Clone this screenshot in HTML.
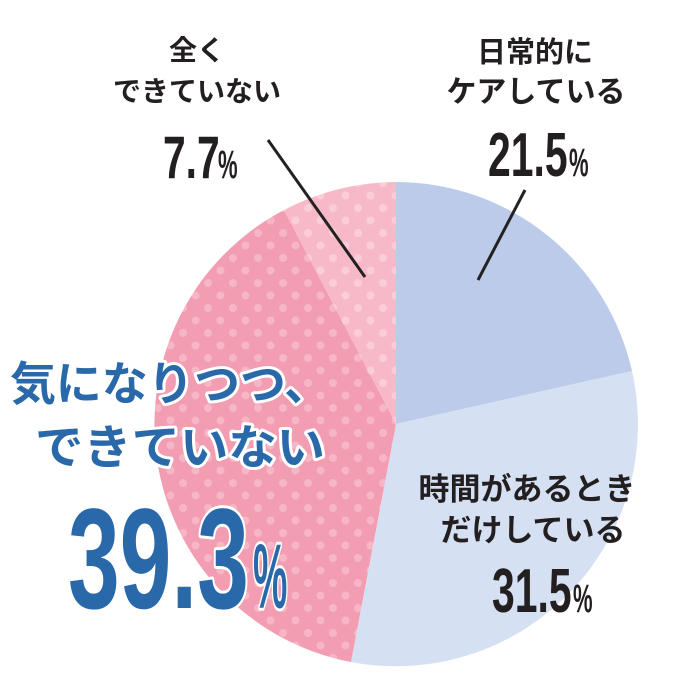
<!DOCTYPE html>
<html><head><meta charset="utf-8"><style>
html,body{margin:0;padding:0;background:#fff;}
svg{display:block;}
</style></head><body>
<svg width="680" height="674" viewBox="0 0 680 674" xmlns="http://www.w3.org/2000/svg">
<defs>
<pattern id="d1" width="25" height="25" patternUnits="userSpaceOnUse" x="2" y="2">
<rect width="25" height="25" fill="#f29db1"/>
<circle cx="6" cy="6" r="4" fill="#f6b6c6"/><circle cx="18.5" cy="18.5" r="4" fill="#f6b6c6"/>
</pattern>
<pattern id="d2" width="25" height="25" patternUnits="userSpaceOnUse" x="2" y="2">
<rect width="25" height="25" fill="#f7b9c8"/>
<circle cx="6" cy="6" r="4" fill="#fbcdd8"/><circle cx="18.5" cy="18.5" r="4" fill="#fbcdd8"/>
</pattern>
</defs>
<path d="M396,424 L396,182 A242,242 0 0 1 632,371 Z" fill="#bccbe9"/>
<path d="M396,424 L632,371 A242,242 0 0 1 351,662 Z" fill="#d5e0f3"/>
<path d="M396,424 L351,662 A242,242 0 0 1 284,210 Z" fill="url(#d1)"/>
<path d="M396,424 L284,210 A242,242 0 0 1 396,182 Z" fill="url(#d2)"/>
<line x1="268" y1="140" x2="365" y2="277" stroke="#222" stroke-width="3"/>
<line x1="525" y1="190" x2="478" y2="280" stroke="#222" stroke-width="3"/>
<g font-family="'Liberation Sans','Noto Sans CJK JP',sans-serif" font-weight="bold" fill="#231f20" text-anchor="middle">
<text x="197" y="60" font-size="28">全く</text>
<text x="197" y="101" font-size="28">できていない</text>
<text x="535" y="62" font-size="29">日常的に</text>
<text x="536" y="102" font-size="30">ケアしている</text>
<text x="527" y="500" font-size="31">時間があるとき</text>
<text x="533" y="541" font-size="31">だけしている</text>
</g>
<g font-family="'Liberation Sans',sans-serif" font-weight="bold" fill="#231f20">
<g transform="translate(163,178) scale(0.68,1)"><text font-size="60">7.7</text></g>
<g transform="translate(218,178) scale(0.55,1)"><text font-size="40">%</text></g>
<g transform="translate(488,176) scale(0.66,1)"><text font-size="62">21.5</text></g>
<g transform="translate(569,176) scale(0.55,1)"><text font-size="40">%</text></g>
<g transform="translate(492,612) scale(0.66,1)"><text font-size="62">31.5</text></g>
<g transform="translate(573,612) scale(0.55,1)"><text font-size="40">%</text></g>
</g>
<g font-family="'Liberation Sans','Noto Sans CJK JP',sans-serif" font-weight="bold" fill="#2968a9" stroke="#fff" stroke-width="6" paint-order="stroke" stroke-linejoin="round">
<text x="10" y="400" font-size="46" textLength="320" lengthAdjust="spacingAndGlyphs">気になりつつ、</text>
<text x="35" y="464" font-size="47" textLength="290" lengthAdjust="spacingAndGlyphs">できていない</text>
<g transform="translate(68,608) scale(0.65,1)"><text font-size="143">39.3</text></g>
<g transform="translate(253,608) scale(0.42,1)"><text font-size="92">%</text></g>
</g>
</svg>
</body></html>
